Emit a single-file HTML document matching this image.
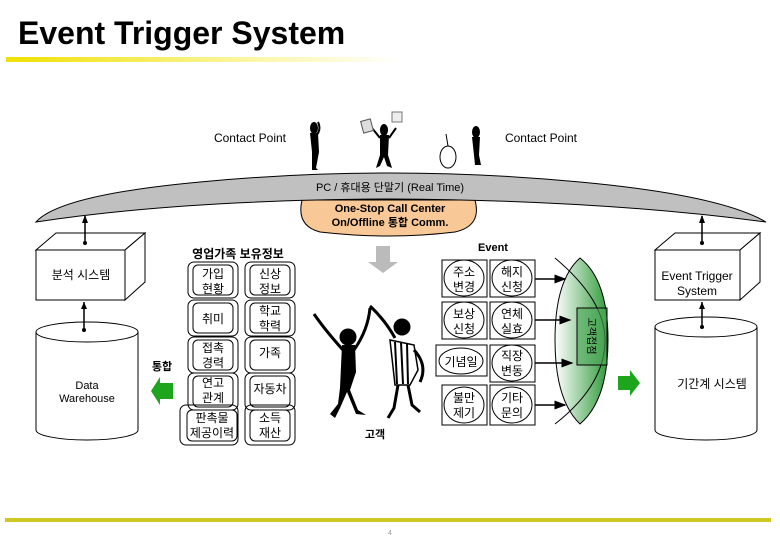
<!DOCTYPE html>
<html><head><meta charset="utf-8"><style>
body{margin:0;background:#fff}
svg{display:block;font-family:"Liberation Sans","Noto Sans CJK KR",sans-serif}
</style></head><body>
<svg width="780" height="540" viewBox="0 0 780 540" xmlns="http://www.w3.org/2000/svg">
<defs>
<linearGradient id="yl" x1="0" x2="1"><stop offset="0" stop-color="#f0e000"/><stop offset="0.6" stop-color="#fbf6a0"/><stop offset="1" stop-color="#ffffff"/></linearGradient>
<linearGradient id="gr" x1="0" x2="1"><stop offset="0" stop-color="#ffffff"/><stop offset="1" stop-color="#2f9a3a"/></linearGradient>
<marker id="ar" markerWidth="8" markerHeight="8" refX="7" refY="4" orient="auto"><path d="M0,1 L8,4 L0,7z" fill="#000"/></marker>
</defs>
<text x="18" y="44" font-size="32" font-weight="bold">Event Trigger System</text>
<rect x="6" y="57" width="394" height="5" fill="url(#yl)"/>
<rect x="5" y="518" width="766" height="4" fill="#cfc820"/>
<text x="390" y="535" font-size="7" fill="#999" text-anchor="middle">4</text>

<!-- figures top -->
<g fill="#000">
<ellipse cx="314" cy="128" rx="4" ry="6"/><path d="M310,133 L318,133 L319,152 L316,168 L318,170 L312,170 L312,152 Z"/>
<path d="M315,137 Q322,130 318,122" stroke="#000" stroke-width="2" fill="none"/>
<ellipse cx="384" cy="130" rx="4" ry="6"/><path d="M380,135 L389,135 L388,155 L392,168 L387,166 L384,157 L380,166 L376,168 L380,155 Z"/>
<path d="M380,138 L372,128 M389,138 L396,128" stroke="#000" stroke-width="2"/>
<rect x="362" y="120" width="10" height="12" fill="#ddd" stroke="#555" transform="rotate(-15 367 126)"/>
<rect x="392" y="112" width="10" height="10" fill="#eee" stroke="#777"/>
<ellipse cx="476" cy="132" rx="4" ry="6"/><path d="M472,137 L480,137 L479,155 L481,165 L475,165 L474,155 Z"/>
</g>
<ellipse cx="448" cy="157" rx="8" ry="11" fill="#fff" stroke="#000"/>
<line x1="448" y1="146" x2="446" y2="134" stroke="#000"/>
<text x="250" y="142" font-size="12" text-anchor="middle">Contact Point</text>
<text x="541" y="142" font-size="12" text-anchor="middle">Contact Point</text>

<!-- orange blob -->
<path d="M302,200 L475,200 Q482,226 455,232 Q390,240 320,232 Q296,226 302,200 Z" fill="#f8c896" stroke="#000"/>
<!-- arc -->
<path d="M36,222 Q60,195 200,182 Q390,164 580,182 Q720,195 766,222 Q600,200 390,199 Q180,200 36,222 Z" fill="#c0c0c0" stroke="#000"/>
<text x="390" y="191" font-size="11" text-anchor="middle">PC / 휴대용 단말기  (Real Time)</text>
<text x="390" y="212" font-size="11" font-weight="bold" text-anchor="middle">One-Stop Call Center</text>
<text x="390" y="226" font-size="11" font-weight="bold" text-anchor="middle">On/Offline 통합 Comm.</text>

<!-- left box -->
<g fill="#fff" stroke="#000">
<path d="M36,250 L56,233 L145,233 L125,250 Z"/><path d="M125,250 L145,233 L145,282 L125,300 Z"/>
<rect x="36" y="250" width="89" height="50"/>
<path d="M36,332 L36,430 A51,10 0 0 0 138,430 L138,332"/>
<ellipse cx="87" cy="332" rx="51" ry="10"/>
</g>
<text x="81" y="279" font-size="12" text-anchor="middle">분석 시스템</text>
<text x="87" y="389" font-size="11" text-anchor="middle">Data</text>
<text x="87" y="402" font-size="11" text-anchor="middle">Warehouse</text>
<line x1="85" y1="216" x2="85" y2="243" stroke="#000" stroke-width="1.5"/><path d="M82,223 L85,215 L88,223Z"/>
<circle cx="85" cy="243" r="2"/>
<line x1="84" y1="302" x2="84" y2="330" stroke="#000" stroke-width="1.5"/><circle cx="84" cy="330" r="2"/><path d="M81,309 L84,302 L87,309Z"/>

<!-- right box -->
<g fill="#fff" stroke="#000">
<path d="M655,250 L675,233 L760,233 L740,250 Z"/><path d="M740,250 L760,233 L760,282 L740,300 Z"/>
<rect x="655" y="250" width="85" height="50"/>
<path d="M655,327 L655,430 A51,10 0 0 0 757,430 L757,327"/>
<ellipse cx="706" cy="327" rx="51" ry="10"/>
</g>
<text x="697" y="280" font-size="12" text-anchor="middle">Event Trigger</text>
<text x="697" y="295" font-size="12" text-anchor="middle">System</text>
<text x="712" y="388" font-size="12" text-anchor="middle">기간계 시스템</text>
<line x1="702" y1="216" x2="702" y2="243" stroke="#000" stroke-width="1.5"/><path d="M699,223 L702,215 L705,223Z"/><circle cx="702" cy="243" r="2"/>
<line x1="702" y1="302" x2="702" y2="327" stroke="#000" stroke-width="1.5"/><circle cx="702" cy="327" r="2"/><path d="M699,309 L702,302 L705,309Z"/>

<!-- 영업가족 table -->
<text x="238" y="258" font-size="12" font-weight="bold" text-anchor="middle">영업가족 보유정보</text>
<g fill="none" stroke="#000">
<rect x="188" y="262" width="50" height="36" rx="6"/><rect x="193" y="265" width="40" height="30" rx="5"/>
<rect x="245" y="262" width="50" height="36" rx="6"/><rect x="250" y="265" width="40" height="30" rx="5"/>
<rect x="188" y="300" width="50" height="36" rx="6"/><rect x="193" y="303" width="40" height="30" rx="5"/>
<rect x="245" y="300" width="50" height="36" rx="6"/><rect x="250" y="303" width="40" height="30" rx="5"/>
<rect x="188" y="337" width="50" height="36" rx="6"/><rect x="193" y="340" width="40" height="30" rx="5"/>
<rect x="245" y="337" width="50" height="36" rx="6"/><rect x="250" y="340" width="40" height="30" rx="5"/>
<rect x="188" y="373" width="50" height="37" rx="6"/><rect x="193" y="376" width="40" height="31" rx="5"/>
<rect x="245" y="373" width="50" height="37" rx="6"/><rect x="250" y="376" width="40" height="31" rx="5"/>
<rect x="180" y="405" width="58" height="40" rx="6"/><rect x="187" y="410" width="50" height="31" rx="5"/>
<rect x="245" y="405" width="50" height="40" rx="6"/><rect x="250" y="410" width="40" height="31" rx="5"/>
</g>
<g font-size="12" text-anchor="middle">
<text x="213" y="278">가입</text><text x="213" y="293">현황</text>
<text x="270" y="278">신상</text><text x="270" y="293">정보</text>
<text x="213" y="323">취미</text>
<text x="270" y="315">학교</text><text x="270" y="330">학력</text>
<text x="213" y="352">접촉</text><text x="213" y="367">경력</text>
<text x="270" y="357">가족</text>
<text x="213" y="387">연고</text><text x="213" y="402">관계</text>
<text x="270" y="393">자동차</text>
<text x="212" y="422">판촉물</text><text x="212" y="437">제공이력</text>
<text x="270" y="422">소득</text><text x="270" y="437">재산</text>
</g>
<text x="162" y="370" font-size="11" font-weight="bold" text-anchor="middle">통합</text>
<path d="M173,383 L160,383 L160,377 L151,391 L160,405 L160,399 L173,399 Z" fill="#1ea51e"/>
<path d="M618,376 L630,376 L630,370 L640,383 L630,396 L630,390 L618,390 Z" fill="#1ea51e"/>
<path d="M376,246 L390,246 L390,262 L398,262 L383,273 L368,262 L376,262 Z" fill="#bbb"/>

<!-- customers -->
<g fill="#000" stroke="#000">
<circle cx="348" cy="337" r="8"/>
<path d="M342,345 L355,345 L356,372 L350,390 L358,410 L366,415 L356,414 L347,392 L340,408 L335,418 L330,414 L338,404 L340,388 Z" stroke="none"/>
<path d="M343,350 Q325,330 314,314 M354,350 Q368,330 370,308" stroke-width="3" fill="none"/>
<circle cx="402" cy="327" r="8"/>
<path d="M370,306 Q385,320 395,338" stroke-width="3" fill="none"/>
<path d="M390,340 L414,345 L418,370 L410,385 L395,385 Z" fill="#fff" stroke-width="1.5"/>
<path d="M395,342 L397,384 M401,342 L403,384 M407,343 L408,384" stroke-width="2"/>
<path d="M398,385 L394,408 L388,418 M408,385 L412,405 L420,412" stroke-width="3" fill="none"/>
<path d="M414,350 Q428,365 420,382" stroke-width="3" fill="none"/>
</g>
<text x="375" y="438" font-size="11" font-weight="bold" text-anchor="middle">고객</text>

<!-- Event grid -->
<text x="493" y="251" font-size="11" font-weight="bold" text-anchor="middle">Event</text>
<path d="M580,258 Q608,280 608,340 Q608,400 580,424 Q555,400 555,340 Q555,280 580,258 Z" fill="url(#gr)" stroke="#000"/>
<path d="M555,258 Q605,300 605,340 Q605,385 555,424" fill="none" stroke="#000"/>
<rect x="577" y="308" width="30" height="57" fill="#4ea85a" fill-opacity="0.6" stroke="#000"/>
<text transform="translate(588,336) rotate(90)" font-size="10" text-anchor="middle">고객접점</text>
<g fill="#fff" stroke="#000">
<rect x="442" y="260" width="45" height="37"/><rect x="490" y="260" width="45" height="37"/>
<rect x="442" y="302" width="45" height="37"/><rect x="490" y="302" width="45" height="37"/>
<rect x="436" y="345" width="51" height="31"/><rect x="490" y="345" width="45" height="37"/>
<rect x="442" y="385" width="45" height="40"/><rect x="490" y="385" width="45" height="40"/>
<ellipse cx="464" cy="278" rx="20" ry="18"/><ellipse cx="512" cy="278" rx="20" ry="18"/>
<ellipse cx="464" cy="320" rx="20" ry="18"/><ellipse cx="512" cy="320" rx="20" ry="18"/>
<ellipse cx="461" cy="361" rx="22" ry="13"/><ellipse cx="512" cy="363" rx="20" ry="18"/>
<ellipse cx="464" cy="405" rx="20" ry="18"/><ellipse cx="512" cy="405" rx="20" ry="18"/>
</g>
<g stroke="#000" stroke-width="1.5">
<line x1="535" y1="279" x2="565" y2="279" marker-end="url(#ar)"/>
<line x1="535" y1="320" x2="570" y2="320" marker-end="url(#ar)"/>
<line x1="535" y1="363" x2="572" y2="363" marker-end="url(#ar)"/>
<line x1="535" y1="405" x2="565" y2="405" marker-end="url(#ar)"/>
</g>
<g font-size="12" text-anchor="middle">
<text x="464" y="276">주소</text><text x="464" y="291">변경</text>
<text x="512" y="276">해지</text><text x="512" y="291">신청</text>
<text x="464" y="318">보상</text><text x="464" y="333">신청</text>
<text x="512" y="318">연체</text><text x="512" y="333">실효</text>
<text x="461" y="366">기념일</text>
<text x="512" y="360">직장</text><text x="512" y="375">변동</text>
<text x="464" y="402">불만</text><text x="464" y="417">제기</text>
<text x="512" y="402">기타</text><text x="512" y="417">문의</text>
</g>
</svg>
</body></html>
